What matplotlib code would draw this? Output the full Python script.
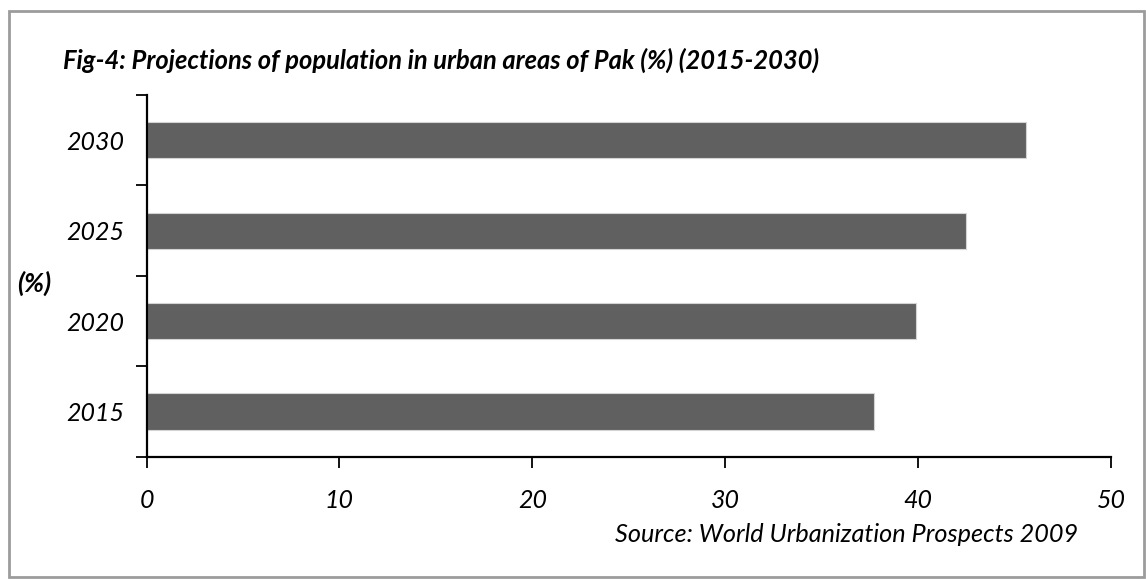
import matplotlib
matplotlib.use("Agg")
import matplotlib.pyplot as plt
from matplotlib.patches import Rectangle

# Urban population share projections for Pakistan (%)
years = ["2015", "2020", "2025", "2030"]
urban_share = [37.7, 39.9, 42.5, 45.6]
x_ticks = [0, 10, 20, 30, 40, 50]

title = "Fig-4: Projections of population in urban areas of Pak (%) (2015-2030)"
source = "Source: World Urbanization Prospects 2009"

plt.rcParams["font.family"] = ["Lato", "DejaVu Sans"]

W, H = 1146, 579
fig = plt.figure(figsize=(W / 100, H / 100), dpi=100)
fig.patch.set_facecolor("white")

# Grey frame around the whole chart area
fig.add_artist(Rectangle((9 / W, 1 - 577 / H), (1144 - 9) / W, (577 - 11) / H,
                         transform=fig.transFigure, fill=False,
                         edgecolor="#9c9c9c", linewidth=2.0))

ax = fig.add_axes([146.5 / W, 1 - 456.7 / H, (1111 - 146.5) / W, (456.7 - 95) / H])

pos = list(range(len(years)))
ax.barh(pos, urban_share, height=0.4, color="#606060", edgecolor="#d4d4d4",
        linewidth=0.8)

tick_fs = 18
ax.set_xlim(0, 50)
ax.set_ylim(-0.5, len(years) - 0.5)
ax.set_xticks(x_ticks)
ax.set_xticklabels([str(t) for t in x_ticks], fontsize=tick_fs, style="italic")
ax.set_yticks([p - 0.5 for p in pos] + [len(years) - 0.5])
ax.set_yticklabels([])
ax.set_yticks(pos, minor=True)
ax.set_yticklabels(years, minor=True, fontsize=tick_fs, style="italic")
ax.tick_params(axis="y", which="minor", length=0, pad=16)
ax.tick_params(axis="y", which="major", length=8, width=1.3, direction="out")
ax.tick_params(axis="x", length=8, width=1.3, direction="out", pad=15)

for s in ("top", "right"):
    ax.spines[s].set_visible(False)
for s in ("left", "bottom"):
    ax.spines[s].set_linewidth(1.6)
    ax.spines[s].set_color("black")

fig.text(63 / W, 1 - 60 / H, title, fontsize=18.4, fontweight="bold",
         style="italic", ha="left", va="center")
fig.text(17 / W, 1 - 283 / H, "(%)", fontsize=19, fontweight="bold",
         style="italic", ha="left", va="center")
fig.text(1078 / W, 1 - 535 / H, source, fontsize=18.2, style="italic",
         ha="right", va="center")

fig.savefig("out.png", dpi=100, facecolor="white")
